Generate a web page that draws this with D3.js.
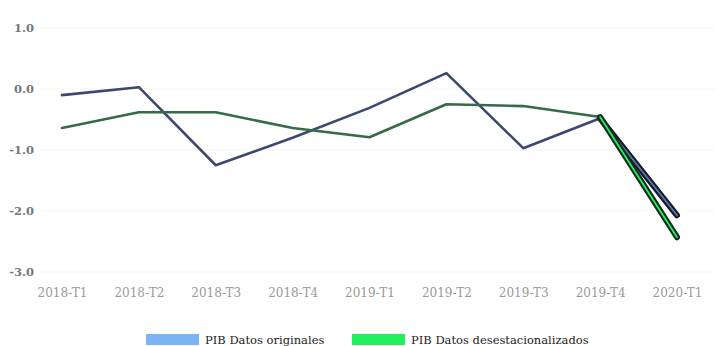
<!DOCTYPE html>
<html><head><meta charset="utf-8">
<script src="https://cdn.jsdelivr.net/npm/d3@7"></script>
<style>body{margin:0;background:#fff}svg{display:block}</style>
</head><body><svg id="c" width="721" height="346"></svg>
<script>
const categories = ["2018-T1","2018-T2","2018-T3","2018-T4","2019-T1","2019-T2","2019-T3","2019-T4","2020-T1"];
const originales = [-0.10, 0.03, -1.25, -0.80, -0.31, 0.26, -0.97, -0.48, -2.07];
const desestacionalizados = [-0.64, -0.38, -0.38, -0.64, -0.79, -0.25, -0.28, -0.46, -2.43];
const yTicks = [1, 0, -1, -2, -3];
const yTickLabels = ["1.0", "0.0", "-1.0", "-2.0", "-3.0"];
const seriesNames = ["PIB Datos originales", "PIB Datos desestacionalizados"];

const svg = d3.select("#c");
const x = d3.scalePoint().domain(categories).range([62, 677]);
const y = d3.scaleLinear().domain([-3, 1]).range([272, 28]);
const font = "'DejaVu Serif', serif";

// faint grid
svg.append("g").selectAll("line").data(yTicks).join("line")
  .attr("x1", 40).attr("x2", 715)
  .attr("y1", d => y(d)).attr("y2", d => y(d))
  .attr("stroke", "#f6f6f6").attr("stroke-width", 1);

// y axis
const yAxis = d3.axisLeft(y).tickValues(yTicks).tickSize(0)
  .tickFormat((d, i) => yTickLabels[i]);
const gy = svg.append("g").attr("transform", "translate(37,0)").call(yAxis);
gy.select(".domain").remove();
gy.selectAll("text").attr("font-family", font).attr("font-size", 11.5).attr("font-weight", "bold").attr("fill", "#777");

// x axis
const xAxis = d3.axisBottom(x).tickSize(0);
const gx = svg.append("g").attr("transform", "translate(0,289)").call(xAxis);
gx.select(".domain").remove();
gx.selectAll("text").attr("font-family", font).attr("font-size", 12).attr("fill", "#999").attr("dy", "0.45em");

const series = [
  {name: seriesNames[0], values: originales, dark: "#3c4870", outer: "#141a2a", inner: "#5d78a8", swatch: "#7ab4f5"},
  {name: seriesNames[1], values: desestacionalizados, dark: "#356b45", outer: "#0d2a1c", inner: "#22f05e", swatch: "#22f05e"}
];
const line = d3.line().x((d, i) => x(categories[i])).y(d => y(d));

series.forEach(s => {
  const n = s.values.length;
  svg.append("path").datum(s.values.slice(0, n - 1)).attr("d", line)
    .attr("fill", "none").attr("stroke", s.dark).attr("stroke-width", 2.6)
    .attr("stroke-linejoin", "round").attr("stroke-linecap", "round");
  const last = d3.line().x((d, i) => x(categories[n - 2 + i])).y(d => y(d));
  svg.append("path").datum(s.values.slice(n - 2)).attr("d", last)
    .attr("fill", "none").attr("stroke", s.outer).attr("stroke-width", 6)
    .attr("stroke-linecap", "round");
  svg.append("path").datum(s.values.slice(n - 2)).attr("d", last)
    .attr("fill", "none").attr("stroke", s.inner).attr("stroke-width", 1.8)
    .attr("stroke-linecap", "round");
});

// legend
const lg = svg.append("g");
const lx = [146, 352];
series.forEach((s, i) => {
  lg.append("rect").attr("x", lx[i]).attr("y", 334).attr("width", 53).attr("height", 11).attr("fill", s.swatch);
  lg.append("text").attr("x", lx[i] + 59).attr("y", 344).text(s.name)
    .attr("font-family", font).attr("font-size", 11.5).attr("fill", "#222");
});
</script></body></html>
